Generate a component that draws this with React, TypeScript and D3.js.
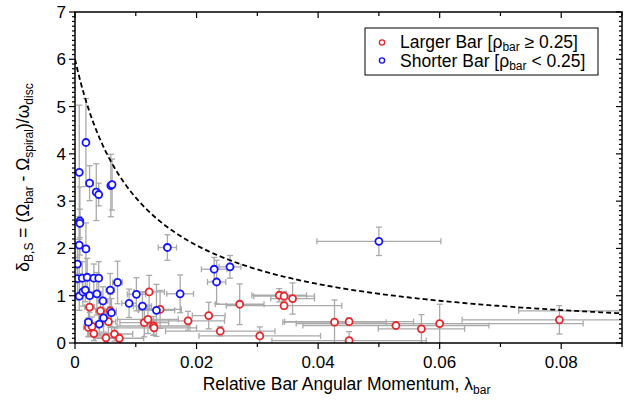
import React from 'react';
import * as d3 from 'd3';

const W = 628;
const H = 403;
const M = { left: 75, right: 6, top: 12, bottom: 60 };

const xTicks = [0, 0.02, 0.04, 0.06, 0.08];
const xTickLabels = ['0', '0.02', '0.04', '0.06', '0.08'];
const yTicks = [0, 1, 2, 3, 4, 5, 6, 7];
const yTickLabels = ['0', '1', '2', '3', '4', '5', '6', '7'];

// Larger bars (rho_bar >= 0.25)
const largerLambda = [0.0122, 0.0140, 0.0024, 0.0042, 0.0058, 0.0055, 0.0022, 0.0028, 0.0031, 0.0051, 0.0065, 0.0073, 0.0114, 0.0120, 0.0129, 0.0130, 0.0186, 0.0220, 0.0239, 0.0271, 0.0304, 0.0336, 0.0344, 0.0358, 0.0344, 0.0427, 0.0451, 0.0451, 0.0528, 0.0570, 0.0600, 0.0797, 0.0955];
const largerDelta = [1.08, 0.71, 0.76, 0.68, 0.68, 0.45, 0.33, 0.35, 0.20, 0.11, 0.19, 0.10, 0.43, 0.50, 0.36, 0.32, 0.47, 0.58, 0.25, 0.82, 0.15, 1.01, 0.99, 0.94, 0.79, 0.44, 0.45, 0.05, 0.37, 0.30, 0.41, 0.49, 0.68];
const largerLambdaErr = [0.0025, 0.0035, 0.0008, 0.0008, 0.0010, 0.0012, 0.0008, 0.0010, 0.0010, 0.0020, 0.0030, 0.0040, 0.0040, 0.0050, 0.0060, 0.0070, 0.0060, 0.0027, 0.0090, 0.0040, 0.0100, 0.0045, 0.0050, 0.0036, 0.0095, 0.0085, 0.0106, 0.0127, 0.0153, 0.0071, 0.0236, 0.0160, 0.0225];
const largerDeltaErr = [0.35, 0.40, 0.30, 0.30, 0.35, 0.25, 0.20, 0.20, 0.15, 0.10, 0.15, 0.10, 0.30, 0.30, 0.20, 0.15, 0.20, 0.28, 0.10, 0.43, 0.19, 0.14, 0.10, 0.33, 0.07, 0.47, 0.08, 0.19, 0.07, 0.30, 0.41, 0.30, 0.10];

// Shorter bars (rho_bar < 0.25)
const shorterLambda = [0.0018, 0.0007, 0.0024, 0.0035, 0.0039, 0.0059, 0.0061, 0.0008, 0.0008, 0.0007, 0.0018, 0.0004, 0.0004, 0.0012, 0.0020, 0.0031, 0.0039, 0.0070, 0.0058, 0.0007, 0.0013, 0.0017, 0.0024, 0.0036, 0.0046, 0.0101, 0.0089, 0.0111, 0.0134, 0.0173, 0.0060, 0.0047, 0.0022, 0.0040, 0.0152, 0.0229, 0.0255, 0.0233, 0.0500];
const shorterDelta = [4.24, 3.61, 3.38, 3.19, 3.14, 3.33, 3.35, 2.58, 2.53, 2.07, 1.99, 1.67, 1.36, 1.37, 1.39, 1.37, 1.37, 1.28, 1.12, 0.99, 1.08, 1.12, 1.00, 1.04, 0.89, 1.03, 0.84, 0.78, 0.69, 1.04, 0.64, 0.53, 0.44, 0.40, 2.02, 1.56, 1.61, 1.29, 2.15];
const shorterLambdaErr = [0.0004, 0.0003, 0.0006, 0.0004, 0.0004, 0.0003, 0.0003, 0.0003, 0.0003, 0.0004, 0.0005, 0.0003, 0.0003, 0.0004, 0.0006, 0.0006, 0.0005, 0.0008, 0.0007, 0.0003, 0.0004, 0.0005, 0.0006, 0.0007, 0.0008, 0.0015, 0.0012, 0.0015, 0.0030, 0.0022, 0.0008, 0.0008, 0.0006, 0.0007, 0.0015, 0.0021, 0.0018, 0.0015, 0.0102];
const shorterDeltaErr = [0.93, 1.42, 0.37, 0.60, 0.24, 0.66, 0.54, 0.72, 0.30, 0.60, 0.55, 0.40, 0.45, 0.35, 0.40, 0.30, 0.35, 0.45, 0.35, 0.30, 0.30, 0.25, 0.35, 0.45, 0.30, 0.35, 0.30, 0.30, 0.55, 0.40, 0.30, 0.30, 0.30, 0.25, 0.27, 0.25, 0.24, 0.46, 0.30];

// Limiting curve: delta = DELTA0 / (1 + lambda / LAMBDA0)
const DELTA0 = 6;
const LAMBDA0 = 0.0105;

const RED = '#e8262b';
const BLUE = '#1414ff';
const ERR = '#aaaaaa';
const FONT = "'Liberation Sans', Arial, Helvetica, sans-serif";

const x = d3.scaleLinear().domain([0, 0.09]).range([M.left, W - M.right]);
const y = d3.scaleLinear().domain([0, 7]).range([H - M.bottom, M.top]);

type Pt = { lx: number; d: number; le: number; de: number };

function zip(l: number[], d: number[], le: number[], de: number[]): Pt[] {
  return l.map((v, i) => ({ lx: v, d: d[i], le: le[i], de: de[i] }));
}

const larger = zip(largerLambda, largerDelta, largerLambdaErr, largerDeltaErr);
const shorter = zip(shorterLambda, shorterDelta, shorterLambdaErr, shorterDeltaErr);

function ErrorBars({ pts }: { pts: Pt[] }) {
  const cap = 3;
  return (
    <g stroke={ERR} strokeWidth={1.3} fill="none">
      {pts.map((p, i) => {
        const cx = x(p.lx), cy = y(p.d);
        const x0 = x(p.lx - p.le), x1 = x(p.lx + p.le);
        const y0 = y(p.d - p.de), y1 = y(p.d + p.de);
        return (
          <g key={i}>
            <line x1={x0} x2={x1} y1={cy} y2={cy} />
            <line x1={x0} x2={x0} y1={cy - cap} y2={cy + cap} />
            <line x1={x1} x2={x1} y1={cy - cap} y2={cy + cap} />
            <line x1={cx} x2={cx} y1={y0} y2={y1} />
            <line x1={cx - cap} x2={cx + cap} y1={y0} y2={y0} />
            <line x1={cx - cap} x2={cx + cap} y1={y1} y2={y1} />
          </g>
        );
      })}
    </g>
  );
}

function Markers({ pts, color }: { pts: Pt[]; color: string }) {
  return (
    <g>
      {pts.map((p, i) => (
        <circle key={i} cx={x(p.lx)} cy={y(p.d)} r={3.5} fill="white" stroke={color} strokeWidth={1.8} />
      ))}
    </g>
  );
}

export default function App() {
  const x0 = M.left, x1 = W - M.right, y0 = H - M.bottom, y1 = M.top;
  const curveL = d3.range(0, 0.0901, 0.0005);
  const curve = d3.line<number>().x((l) => x(l)).y((l) => y(DELTA0 / (1 + l / LAMBDA0)))(curveL) || '';
  const xMinor = d3.range(0, 10).map((i) => i / 100);
  const yMinor = d3.range(0, 71).map((i) => i / 10);

  return (
    <svg width={W} height={H} style={{ position: 'absolute', left: 0, top: 0, background: 'white' }} fontFamily={FONT}>
      <defs>
        <clipPath id="plotClip">
          <rect x={x0} y={y1} width={x1 - x0} height={y0 - y1} />
        </clipPath>
      </defs>
      <rect width={W} height={H} fill="white" />
      <g clipPath="url(#plotClip)">
        <ErrorBars pts={larger} />
        <ErrorBars pts={shorter} />
        <path d={curve} fill="none" stroke="black" strokeWidth={1.8} strokeDasharray="5,3" />
        <Markers pts={larger} color={RED} />
        <Markers pts={shorter} color={BLUE} />
      </g>

      {/* frame */}
      <rect x={x0} y={y1} width={x1 - x0} height={y0 - y1} fill="none" stroke="black" strokeWidth={1.5} />

      {/* x ticks: bottom outward, top inward; y ticks point left on both sides */}
      <g stroke="black" strokeWidth={1.2}>
        {xMinor.map((v, i) => {
          const major = i % 2 === 0;
          const len = major ? 6 : 4;
          return (
            <g key={i}>
              <line x1={x(v)} x2={x(v)} y1={y0} y2={y0 + len} />
              <line x1={x(v)} x2={x(v)} y1={y1} y2={y1 + len} />
            </g>
          );
        })}
        {yMinor.map((v, i) => {
          const major = i % 10 === 0;
          const len = major ? 6 : 3;
          return (
            <g key={i}>
              <line x1={x0 - len} x2={x0} y1={y(v)} y2={y(v)} />
              <line x1={x1 - len} x2={x1} y1={y(v)} y2={y(v)} />
            </g>
          );
        })}
      </g>

      {/* tick labels */}
      <g fontSize={17} fill="black">
        {xTicks.map((v, i) => (
          <text key={i} x={x(v)} y={y0 + 25} textAnchor="middle">{xTickLabels[i]}</text>
        ))}
        {yTicks.map((v, i) => (
          <text key={i} x={x0 - 9} y={y(v) + 6} textAnchor="end">{yTickLabels[i]}</text>
        ))}
      </g>

      {/* x axis title */}
      <text x={(x0 + x1) / 2 - 2} y={y0 + 47} textAnchor="middle" fontSize={17.5}>
        Relative Bar Angular Momentum, λ<tspan fontSize={12} dy={4}>bar</tspan>
      </text>

      {/* y axis title */}
      <text transform={`translate(29,${(y0 + y1) / 2}) rotate(-90)`} textAnchor="middle" fontSize={17.5}>
        δ<tspan fontSize={12} dy={4}>B,S</tspan>
        <tspan dy={-4}> = (Ω</tspan>
        <tspan fontSize={12} dy={4}>bar</tspan>
        <tspan dy={-4}> - Ω</tspan>
        <tspan fontSize={12} dy={4}>spiral</tspan>
        <tspan dy={-4}>)/ω</tspan>
        <tspan fontSize={12} dy={4}>disc</tspan>
      </text>

      {/* legend */}
      <g>
        <rect x={365} y={28} width={233} height={47} fill="white" stroke="black" strokeWidth={1} />
        <circle cx={382} cy={42.5} r={2.6} fill="white" stroke={RED} strokeWidth={1.4} />
        <circle cx={382} cy={60.5} r={2.6} fill="white" stroke={BLUE} strokeWidth={1.4} />
        <text x={400} y={48} fontSize={17.5}>
          Larger Bar [ρ<tspan fontSize={12} dy={3}>bar</tspan><tspan dy={-3}> ≥ 0.25]</tspan>
        </text>
        <text x={400} y={67} fontSize={17.5}>
          Shorter Bar [ρ<tspan fontSize={12} dy={3}>bar</tspan><tspan dy={-3}> &lt; 0.25]</tspan>
        </text>
      </g>
    </svg>
  );
}
